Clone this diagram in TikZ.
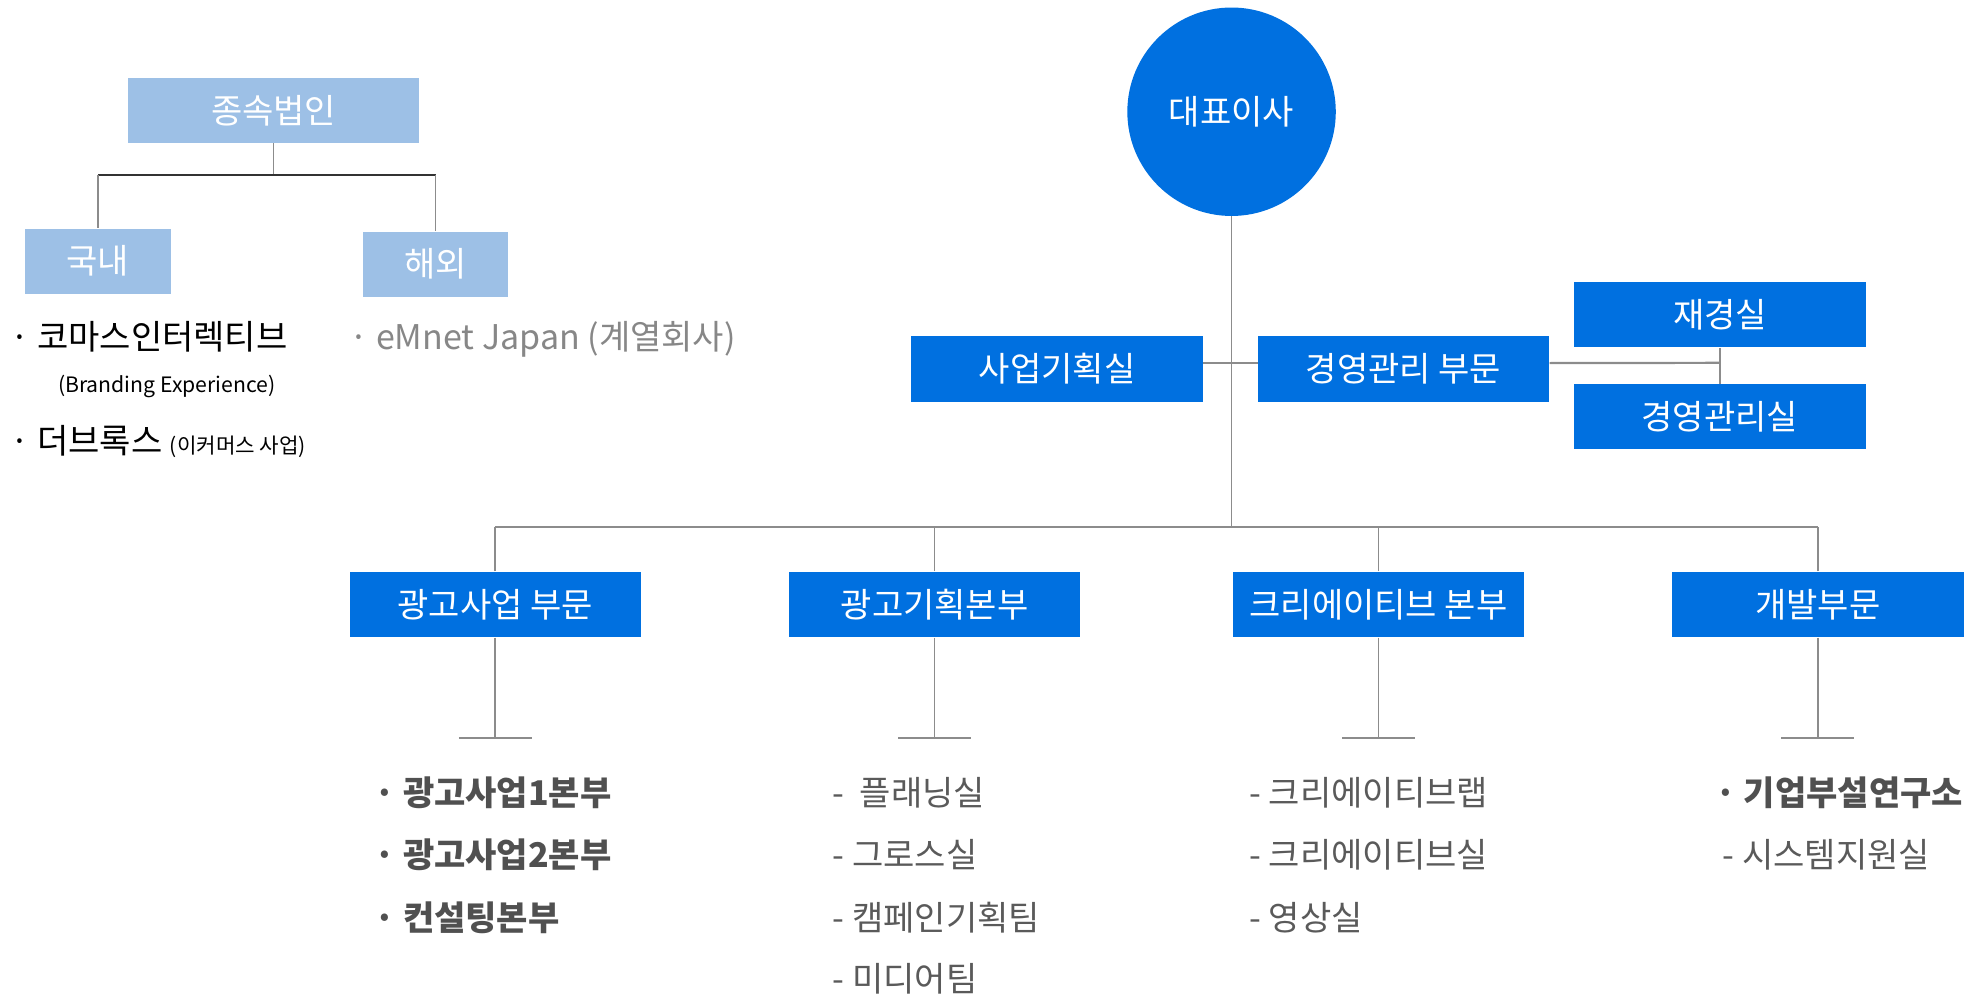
\documentclass[tikz,border=0pt]{standalone}
\usepackage{fontspec}
\setmainfont{Noto Sans CJK KR}
\definecolor{cblue}{RGB}{0,112,224}
\definecolor{clight}{RGB}{157,192,230}
\definecolor{cline}{RGB}{140,140,140}
\definecolor{cdark}{RGB}{50,50,50}
\definecolor{ctext}{RGB}{90,90,90}
\definecolor{cbold}{RGB}{80,80,80}
\definecolor{cgray}{RGB}{135,135,135}
\begin{document}
\begin{tikzpicture}[x=0.6275pt,y=-0.6275pt,
 every node/.style={font=\fontsize{17}{20}\selectfont},
 bbox/.style={fill=cblue,text=white,minimum width=145.6pt,minimum height=32.6pt,inner sep=0pt},
 lbox/.style={fill=clight,text=white,minimum height=32.6pt,inner sep=0pt},
 conn/.style={draw=cline,line width=0.8pt},
 item/.style={anchor=base west,inner sep=0pt,text=ctext},
 bitem/.style={item,text=cbold,font=\fontsize{17}{20}\selectfont\bfseries},
 small/.style={font=\fontsize{10.6}{12}\selectfont}]
\useasboundingbox (0,0) rectangle (1570,796);
% top-left group
\node[lbox,minimum width=145.6pt] (sub) at (218,88) {종속법인};
\node[lbox,minimum width=72.8pt] (dom) at (78,208) {국내};
\node[lbox,minimum width=72.8pt] (ovs) at (347,210.5) {해외};
\coordinate (sL) at (78,139);
\coordinate (sR) at (347,139);
\draw[conn] (sub.south) -- (sub.south |- sL);
\draw[draw=cdark,line width=1pt] (sL) -- (sR);
\draw[conn] (sL) -- (dom.north);
\draw[conn] (sR) -- (ovs.north);
\node[item,text=black] (k1) at (8,278) {· 코마스인터렉티브};
\node[item,text=black,small] (k2) at (46,313) {(Branding Experience)};
\node[item,text=black] (k3) at (8,361) {· 더브록스 {\fontsize{10.6}{12}\selectfont(이커머스 사업)}};
\node[item,text=cgray] (k4) at (278,278) {· eMnet Japan (계열회사)};
% center group
\node[circle,fill=cblue,text=white,minimum size=104.2pt,inner sep=0pt] (ceo) at (981,89) {대표이사};
\node[bbox] (plan) at (842,294) {사업기획실};
\node[bbox] (mgmt) at (1118,294) {경영관리 부문};
\node[bbox] (fin) at (1370,250.5) {재경실};
\node[bbox] (ops) at (1370,332) {경영관리실};
\node[bbox] (d1) at (394.5,481.5) {광고사업 부문};
\node[bbox] (d2) at (744.5,481.5) {광고기획본부};
\node[bbox] (d3) at (1098,481.5) {크리에이티브 본부};
\node[bbox] (d4) at (1448,481.5) {개발부문};
\coordinate (busL) at (394.5,420);
\coordinate (busR) at (1448,420);
\coordinate (j) at (1370,289);
\draw[conn] (ceo.south) -- (ceo.south |- busL);
\draw[conn,line width=1pt] (busL) -- (busR);
\draw[conn] ([yshift=3pt]plan.east) -- ([yshift=3pt]mgmt.west);
\draw[conn,line width=1.1pt] ([yshift=3pt]mgmt.east) -- (j);
\draw[conn] (fin.south) -- (ops.north);
\foreach \n in {d1,d2,d3,d4}{
  \draw[conn] (\n.north) -- (\n.north |- busL);
}
\coordinate (t1) at (394.5,588);
\coordinate (t2) at (744.5,588);
\coordinate (t3) at (1098,588);
\coordinate (t4) at (1448,588);
\draw[conn] (d1.south) -- (t1);
\draw[conn] (d2.south) -- (t2);
\draw[conn] (d3.south) -- (t3);
\draw[conn] (d4.south) -- (t4);
\foreach \t in {t1,t2,t3,t4}{
  \draw[conn] ([xshift=-18.2pt]\t) -- ([xshift=18.2pt]\t);
}
% lists
\node[bitem] (a1) at (298,642) {· 광고사업1본부};
\node[bitem] (a2) at (298,691) {· 광고사업2본부};
\node[bitem] (a3) at (298,741) {· 컨설팅본부};
\node[item] (p1) at (663,642) {-~~플래닝실};
\node[item] (p2) at (663,691) {- 그로스실};
\node[item] (p3) at (663,741) {- 캠페인기획팀};
\node[item] (p4) at (663,790) {- 미디어팀};
\node[item] (c1) at (995,642) {- 크리에이티브랩};
\node[item] (c2) at (995,691) {- 크리에이티브실};
\node[item] (c3) at (995,741) {- 영상실};
\node[bitem] (e1) at (1366,642) {· 기업부설연구소};
\node[item] (e2) at (1372,691) {- 시스템지원실};
\end{tikzpicture}
\end{document}
